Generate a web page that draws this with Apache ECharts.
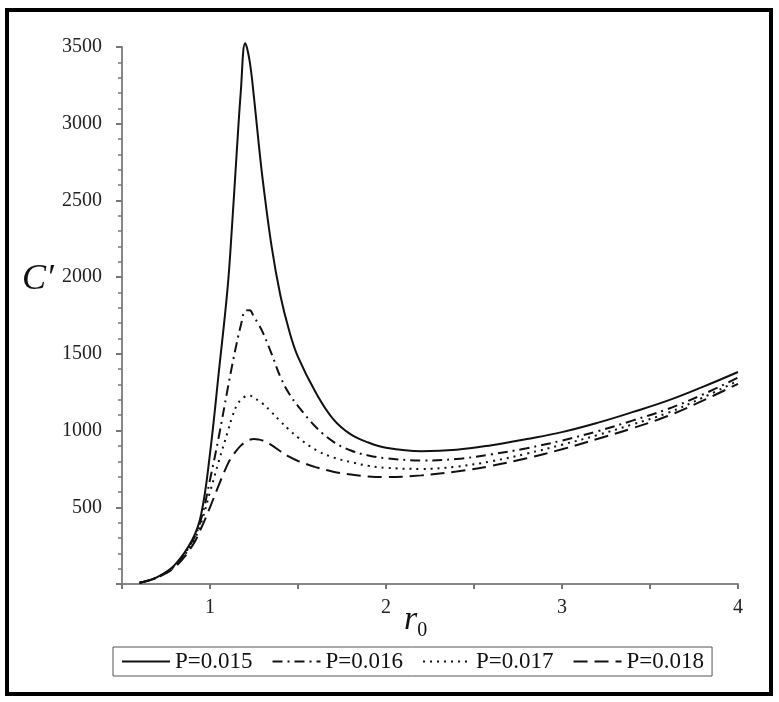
<!DOCTYPE html>
<html>
<head>
<meta charset="utf-8">
<script src="https://cdn.jsdelivr.net/npm/echarts@6/dist/echarts.min.js"></script>
<style>
  html, body { margin: 0; padding: 0; background: #fff; }
  #chart { width: 779px; height: 702px; }
</style>
</head>
<body>
<div id="chart"></div>
<script>
// r0 sample points
const r0 = [0.6, 0.7, 0.8, 0.9, 0.95, 1.0, 1.05, 1.1, 1.125, 1.15, 1.175, 1.2, 1.225, 1.25, 1.275, 1.3, 1.35, 1.4,
  1.45, 1.5, 1.6, 1.7, 1.8, 1.9, 2.0, 2.2, 2.4, 2.6, 2.8, 3.0, 3.2, 3.4, 3.6, 3.8, 4.0];

// C' values
const cP015 = [8, 45, 125, 290, 455, 850, 1380, 1930, 2330, 2780, 3210, 3525, 3410, 3170, 2890, 2630, 2200, 1880,
  1650, 1480, 1250, 1075, 975, 922, 888, 866, 875, 905, 945, 990, 1050, 1120, 1195, 1285, 1382];
const cP016 = [8, 44, 120, 280, 425, 680, 960, 1270, 1420, 1560, 1685, 1780, 1785, 1740, 1695, 1640, 1500, 1350,
  1240, 1160, 1025, 928, 870, 838, 820, 805, 815, 845, 885, 935, 995, 1065, 1140, 1235, 1345];
const cP017 = [8, 43, 115, 268, 400, 600, 800, 990, 1085, 1160, 1200, 1222, 1228, 1215, 1195, 1175, 1120, 1060,
  1005, 955, 875, 825, 795, 770, 757, 750, 765, 800, 850, 908, 970, 1040, 1115, 1215, 1325];
const cP018 = [8, 42, 110, 250, 365, 500, 645, 780, 830, 870, 902, 925, 940, 945, 942, 935, 905, 865,
  830, 802, 762, 732, 713, 701, 697, 708, 733, 770, 820, 878, 945, 1015, 1095, 1195, 1305];

const seriesNames = ['P=0.015', 'P=0.016', 'P=0.017', 'P=0.018'];
const seriesValues = [cP015, cP016, cP017, cP018];
const dashTypes = ['solid', [10, 5, 2, 5], [2, 5], [14, 7]];

const serif = '"Liberation Serif", "Times New Roman", serif';

function makeSeries(i) {
  return {
    name: seriesNames[i],
    type: 'line',
    smooth: 0.4,
    symbol: 'none',
    clip: false,
    data: r0.map((x, k) => [x, seriesValues[i][k]]),
    lineStyle: { color: '#111', width: 2, type: dashTypes[i] },
    itemStyle: { color: '#111' },
  };
}

const chart = echarts.init(document.getElementById('chart'));
chart.setOption({
  animation: false,
  backgroundColor: '#fff',
  grid: { left: 122, right: 41, top: 47, bottom: 118 },
  legend: {
    data: seriesNames,
    left: 113,
    top: 647,
    orient: 'horizontal',
    itemWidth: 48,
    itemHeight: 12,
    itemGap: 19,
    padding: [3, 8, 3, 8],
    borderColor: '#555',
    borderWidth: 1,
    selectedMode: false,
    itemStyle: { opacity: 0 },
    textStyle: { fontFamily: serif, fontSize: 23, color: '#111' },
  },
  xAxis: {
    type: 'value',
    min: 0.5,
    max: 4,
    interval: 0.5,
    axisLine: { lineStyle: { color: '#888', width: 2 } },
    axisTick: { length: 5, lineStyle: { color: '#777', width: 2 } },
    axisLabel: {
      margin: 14,
      fontFamily: serif,
      fontSize: 20,
      color: '#222',
      formatter: v => (Number.isInteger(v) ? String(v) : ''),
    },
    splitLine: { show: false },
  },
  yAxis: {
    type: 'value',
    min: 0,
    max: 3500,
    interval: 500,
    axisLine: { show: true, lineStyle: { color: '#888', width: 2 } },
    axisTick: { show: true, length: 6, lineStyle: { color: '#777', width: 2 } },
    minorTick: { show: true, splitNumber: 5, length: 4, lineStyle: { color: '#777', width: 1.5 } },
    axisLabel: {
      margin: 20,
      fontFamily: serif,
      fontSize: 20,
      color: '#222',
      formatter: v => (v === 0 ? '' : String(v)),
    },
    splitLine: { show: false },
  },
  graphic: [
    {
      // outer frame
      type: 'rect',
      shape: { x: 7, y: 10, width: 764, height: 684 },
      style: { fill: 'none', stroke: '#000', lineWidth: 4 },
    },
    {
      type: 'text',
      left: 22,
      top: 262,
      style: { text: 'C\u2032', fontFamily: serif, fontStyle: 'italic', fontSize: 36, fill: '#111' },
    },
    {
      type: 'text',
      left: 404,
      top: 603,
      style: {
        text: '{r|r}{s|0}',
        rich: {
          r: { fontFamily: serif, fontStyle: 'italic', fontSize: 34, fill: '#111' },
          s: { fontFamily: serif, fontSize: 20, fill: '#111', padding: [22, 0, 0, 0] },
        },
      },
    },
  ],
  series: seriesValues.map((_, i) => makeSeries(i)),
});
</script>
</body>
</html>
